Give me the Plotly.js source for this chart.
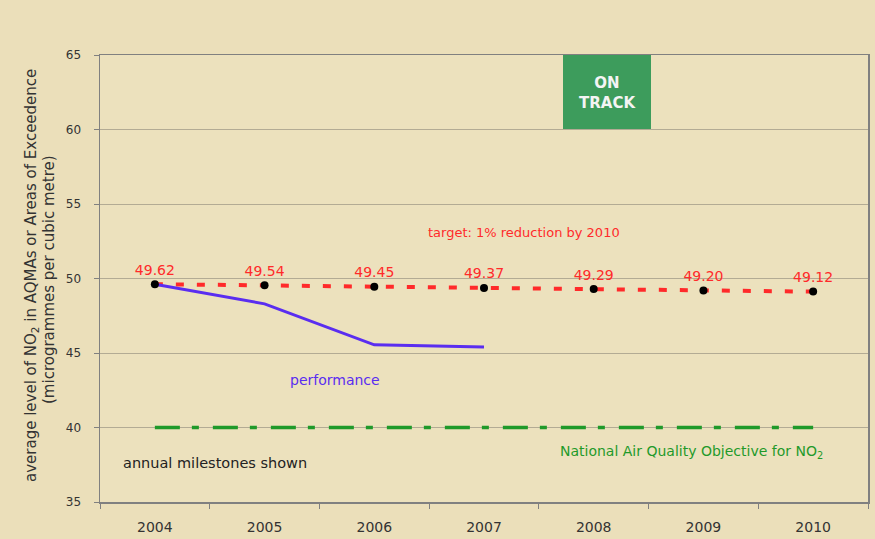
<!DOCTYPE html>
<html><head><meta charset="utf-8">
<script src="https://cdn.plot.ly/plotly-3.0.1.min.js"></script>
<style>html,body{margin:0;padding:0;background:#ebdfba;}#chart{width:875px;height:539px;}</style>
</head><body><div id="chart"></div>
<script>
const years = ["2004","2005","2006","2007","2008","2009","2010"];
const targetValues = [49.62, 49.54, 49.45, 49.37, 49.29, 49.20, 49.12];
const targetLabels = ["49.62","49.54","49.45","49.37","49.29","49.20","49.12"];
const perfYears = ["2004","2005","2006","2007"];
const perfValues = [49.62, 48.3, 45.55, 45.4];
const objectiveValue = 40;

const F = 'DejaVu Sans, Verdana, sans-serif';
const traces = [
  {x: years, y: years.map(()=>objectiveValue), mode:'lines', line:{color:'#1f9a2a', width:3.5, dash:'25px,12px,7px,14px'}, hoverinfo:'skip'},
  {x: years, y: targetValues, mode:'lines', line:{color:'#ff2a2a', width:4, dash:'8px,13px'}, hoverinfo:'skip'},
  {x: perfYears, y: perfValues, mode:'lines', line:{color:'#5a2df0', width:3}, hoverinfo:'skip'},
  {x: years, y: targetValues, mode:'markers+text', marker:{color:'#000', size:8}, text: targetLabels, textposition:'top center', textfont:{family:F, size:14, color:'#ff2a2a'}, hoverinfo:'skip'}
];

function px(xp){return (xp-100)/768;}
function py(yp){return (502-yp)/447;}

const layout = {
  width:875, height:539,
  margin:{l:100, r:7, t:55, b:37},
  paper_bgcolor:'#ebdfba', plot_bgcolor:'#ece1bd',
  showlegend:false,
  font:{family:F, color:'#333'},
  xaxis:{type:'category', range:[-0.5,6.5], tickson:'boundaries', ticks:'outside', ticklen:5, tickcolor:'#808080',
         showline:true, linecolor:'#808080', linewidth:1.5, mirror:true, showgrid:false, ticklabelstandoff:12,
         tickfont:{family:F, size:14, color:'#333'}},
  yaxis:{range:[35,65], dtick:5, ticks:'outside', ticklen:5, tickcolor:'#808080', showline:true, linecolor:'#808080', linewidth:1.5, mirror:true,
         gridcolor:'#b3ab94', gridwidth:1, zeroline:false, ticklabelstandoff:10, tickfont:{family:F, size:12, color:'#333'}},
  shapes:[
    {type:'rect', xref:'paper', yref:'paper', x0:px(563), x1:px(651), y0:py(129), y1:py(55), fillcolor:'#3d9c5c', line:{width:0}}
  ],
  annotations:[
    {xref:'paper', yref:'paper', x:px(607), y:py(93), xanchor:'center', yanchor:'middle', text:'<b>ON<br>TRACK</b>', showarrow:false, font:{family:F, size:15, color:'#f4f4f4'}},
    {xref:'paper', yref:'paper', x:px(524), y:py(232), xanchor:'center', yanchor:'middle', text:'target: 1% reduction by 2010', showarrow:false, font:{family:F, size:13, color:'#ff2a2a'}},
    {xref:'paper', yref:'paper', x:px(335), y:py(380), xanchor:'center', yanchor:'middle', text:'performance', showarrow:false, font:{family:F, size:14, color:'#5a2df0'}},
    {xref:'paper', yref:'paper', x:px(215), y:py(463), xanchor:'center', yanchor:'middle', text:'annual milestones shown', showarrow:false, font:{family:F, size:14.5, color:'#222'}},
    {xref:'paper', yref:'paper', x:px(691), y:py(452), xanchor:'center', yanchor:'middle', text:'National Air Quality Objective for NO<sub>2</sub>', showarrow:false, font:{family:F, size:14, color:'#1f9a2a'}},
    {xref:'paper', yref:'paper', x:px(31), y:py(276), xanchor:'center', yanchor:'middle', text:'average level of NO<sub>2</sub> in AQMAs or Areas of Exceedence', textangle:-90, showarrow:false, font:{family:F, size:15, color:'#333'}},
    {xref:'paper', yref:'paper', x:px(49), y:py(280), xanchor:'center', yanchor:'middle', text:'(microgrammes per cubic metre)', textangle:-90, showarrow:false, font:{family:F, size:15, color:'#333'}}
  ]
};
Plotly.newPlot('chart', traces, layout, {displayModeBar:false, staticPlot:true});
</script></body></html>
